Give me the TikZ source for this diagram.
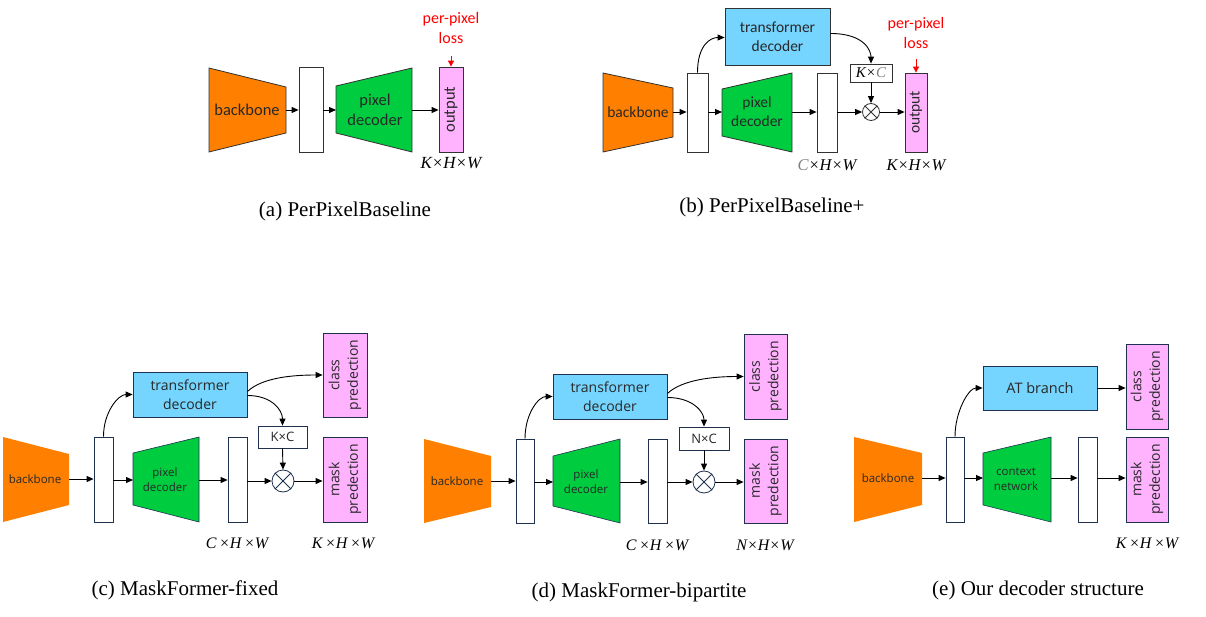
\documentclass[tikz,border=0pt]{standalone}
\usepackage{fontspec}
\setmainfont{Liberation Serif}
\newfontfamily\calfont{Carlito}
\newfontfamily\osfont{Open Sans}
\usetikzlibrary{arrows.meta,calc}
\definecolor{bborange}{RGB}{255,128,0}
\definecolor{pdgreen}{RGB}{0,204,64}
\definecolor{tdblue}{RGB}{117,213,255}
\definecolor{outpink}{RGB}{255,179,255}
\definecolor{navy}{RGB}{31,48,80}
\definecolor{edgeA}{RGB}{50,50,50}
\definecolor{txtgray}{RGB}{40,40,40}
\begin{document}
\begin{tikzpicture}[x=1pt,y=-1pt,
  arr/.style={-{Triangle[length=7pt,width=6pt]}, line width=0.9pt},
  redarr/.style={-{Triangle[length=6pt,width=6pt]}, line width=0.9pt, red},
  trapA/.style={draw=edgeA, line width=0.8pt},
  trapC/.style={draw=navy, line width=0.6pt},
  lblA/.style={font=\calfont\fontsize{16.5}{20}\selectfont, inner sep=0pt, text=txtgray},
  lblB/.style={font=\calfont\fontsize{15.5}{19}\selectfont, inner sep=0pt, text=txtgray},
  lblC/.style={font=\osfont\fontsize{11.5}{15}\selectfont, inner sep=0pt, text=txtgray, align=center},
  lblD/.style={font=\osfont\fontsize{14}{18.5}\selectfont, inner sep=0pt, text=txtgray, align=center},
  featA/.style={draw=edgeA, line width=0.8pt, fill=white, inner sep=0pt},
  featC/.style={draw=navy, line width=0.8pt, fill=white, inner sep=0pt},
  pinkA/.style={draw=edgeA, line width=0.8pt, fill=outpink, inner sep=0pt},
  pinkC/.style={draw=navy, line width=0.8pt, fill=outpink, inner sep=0pt},
  blueA/.style={draw=edgeA, line width=0.8pt, fill=tdblue, inner sep=0pt},
  blueC/.style={draw=navy, line width=0.8pt, fill=tdblue, inner sep=0pt},
  otimes/.style={circle, draw=navy, line width=0.8pt, fill=white, inner sep=0pt},
  dimA/.style={font=\rmfamily\fontsize{17}{20}\selectfont\itshape, inner sep=0pt},
  dimC/.style={font=\rmfamily\fontsize{16}{20}\selectfont\itshape, inner sep=0pt},
  captxt/.style={font=\rmfamily\fontsize{21}{24}\selectfont, inner sep=0pt},
  loss/.style={font=\calfont\fontsize{16}{20}\selectfont, text=red, align=center, inner sep=0pt}
]
\useasboundingbox (0,0) rectangle (1206,617);

% ================= (a) =================
\draw[trapA, fill=bborange] (209,68) -- (286,87) -- (286,133) -- (209,152) -- cycle;
\node[lblA] (a-bb) at (247,110) {backbone};
\coordinate (a-bbR) at (286,110);
\node[featA, minimum width=24, minimum height=85] (a-f1) at (311,109.5) {};
\draw[trapA, fill=pdgreen] (336,86) -- (412,68) -- (412,152) -- (336,133) -- cycle;
\node[lblA, align=center] (a-pd) at (375,110) {pixel\\decoder};
\coordinate (a-pdL) at (336,110);
\coordinate (a-pdR) at (412,110);
\node[pinkA, minimum width=24, minimum height=85] (a-out) at (451,109.5) {};
\node[lblA, rotate=90] (a-outt) at (a-out) {output};
\node[loss] (a-loss) at (451,28) {per-pixel\\loss};
\coordinate (a-lossT) at (451,56);
\node[dimA] (a-dim) at (451,163) {K×H×W};
\draw[arr] (a-bbR) -- (a-f1.west |- a-bbR);
\draw[arr] (a-f1.east |- a-pdL) -- (a-pdL);
\draw[arr] (a-pdR) -- (a-out.west |- a-pdR);
\draw[redarr] (a-lossT) -- (a-out.north);
\node[captxt] (a-cap) at (345,211) {(a) PerPixelBaseline};

% ================= (b) =================
\draw[trapA, fill=bborange] (603,73) -- (673,88) -- (673,137) -- (603,152) -- cycle;
\node[lblB] (b-bb) at (638,112) {backbone};
\coordinate (b-bbR) at (673,112);
\node[featA, minimum width=21, minimum height=79] (b-f1) at (697.5,112.5) {};
\draw[trapA, fill=pdgreen] (722,89) -- (792,73) -- (792,152) -- (722,136) -- cycle;
\node[lblB, align=center] (b-pd) at (757,112) {pixel\\decoder};
\coordinate (b-pdL) at (722,112);
\coordinate (b-pdR) at (792,112);
\node[featA, minimum width=20, minimum height=79] (b-f2) at (827,112.5) {};
\node[otimes, draw=edgeA, minimum size=17] (b-mul) at (871,112) {};
\draw[edgeA, line width=0.8pt] (b-mul.45) -- (b-mul.225) (b-mul.135) -- (b-mul.315);
\node[pinkA, minimum width=22, minimum height=79] (b-out) at (916,112.5) {};
\node[lblB, rotate=90] (b-outt) at (b-out) {output};
\node[blueA, minimum width=105, minimum height=57] (b-td) at (777.5,36.5) {};
\node[lblB, align=center] (b-tdt) at (b-td) {transformer\\decoder};
\node[featA, minimum width=42, minimum height=18] (b-kc) at (871,73) {};
\node[font=\rmfamily\fontsize{15}{18}\selectfont\itshape, inner sep=0pt] (b-kct) at (b-kc) {K×\textcolor{gray}{C}};
\node[loss] (b-loss) at (916,33) {per-pixel\\loss};
\coordinate (b-lossT) at (916,59);
\node[dimA, font=\rmfamily\fontsize{16.5}{20}\selectfont\itshape] (b-dim1) at (827,165) {\textcolor{gray}{C}×H×W};
\node[dimA, font=\rmfamily\fontsize{16.5}{20}\selectfont\itshape] (b-dim2) at (916,165) {K×H×W};
\draw[arr] (b-bbR) -- (b-f1.west |- b-bbR);
\draw[arr] (b-f1.east |- b-pdL) -- (b-pdL);
\draw[arr] (b-pdR) -- (b-f2.west |- b-pdR);
\draw[arr] (b-f2.east |- b-mul) -- (b-mul.west);
\draw[arr] (b-mul.east) -- (b-out.west |- b-mul);
\draw[arr] (b-kc.south) -- (b-mul.north);
\draw[arr] (b-f1.north) .. controls +(0,-28) and +(-14,0) .. ([yshift=-1pt]b-td.west);
\draw[arr] ([yshift=3pt]b-td.east) .. controls +(35,0) and +(0,-12) .. (b-kc.north);
\draw[redarr] (b-lossT) -- (b-out.north);
\node[captxt] (b-cap) at (772,207) {(b) PerPixelBaseline+};

% ================= (c) =================
\draw[trapC, draw=none, fill=bborange] (3,437) -- (69,454) -- (69,505) -- (3,522) -- cycle;
\node[lblC] (c-bb) at (35,479) {backbone};
\coordinate (c-bbR) at (69,479);
\node[featC, minimum width=19, minimum height=85] (c-f1) at (103.5,479.5) {};
\draw[trapC, fill=pdgreen] (133,453) -- (199,437) -- (199,522) -- (133,505) -- cycle;
\node[lblC] (c-pd) at (165,480) {pixel\\decoder};
\coordinate (c-pdL) at (133,480);
\coordinate (c-pdR) at (199,480);
\node[featC, minimum width=19, minimum height=85] (c-f2) at (237.5,479.5) {};
\node[otimes, minimum size=22] (c-mul) at (283,481) {};
\draw[navy, line width=0.8pt] (c-mul.45) -- (c-mul.225) (c-mul.135) -- (c-mul.315);
\node[featC, minimum width=49, minimum height=22] (c-kc) at (282.5,437) {};
\node[lblD, font=\osfont\fontsize{13}{16}\selectfont] (c-kct) at (c-kc) {K×C};
\node[blueC, minimum width=114, minimum height=45] (c-td) at (190,394.5) {};
\node[lblD] (c-tdt) at (c-td) {transformer\\decoder};
\node[pinkC, minimum width=44, minimum height=84] (c-cls) at (345,375) {};
\node[lblD, rotate=90] (c-clst) at (c-cls) {class\\predection};
\node[pinkC, minimum width=44, minimum height=85] (c-msk) at (345,479.5) {};
\node[lblD, rotate=90] (c-mskt) at (c-msk) {mask\\predection};
\node[dimC] (c-dim1) at (237,543) {C\,×H\,×W};
\node[dimC] (c-dim2) at (343,543) {K\,×H\,×W};
\draw[arr] (c-bbR) -- (c-f1.west |- c-bbR);
\draw[arr] (c-f1.east |- c-pdL) -- (c-pdL);
\draw[arr] (c-pdR) -- (c-f2.west |- c-pdR);
\draw[arr] (c-f2.east |- c-mul) -- (c-mul.west);
\draw[arr] (c-mul.east) -- (c-msk.west |- c-mul);
\draw[arr] (c-kc.south) -- (c-mul.north);
\draw[arr] (c-f1.north) .. controls +(0,-25) and +(-14,0) .. (c-td.west);
\draw[arr] ([yshift=3pt]c-td.east) .. controls +(15,-14) and +(-30,0) .. (c-cls.west);
\draw[arr] ([yshift=-1pt]c-td.east) .. controls +(25,0) and +(0,-15) .. (c-kc.north);
\node[captxt] (c-cap) at (185,590) {(c) MaskFormer-fixed};

% ================= (d) =================
\draw[trapC, draw=none, fill=bborange] (424,439) -- (491,456) -- (491,507) -- (424,523) -- cycle;
\node[lblC] (d-bb) at (457,481) {backbone};
\coordinate (d-bbR) at (491,481);
\node[featC, minimum width=18, minimum height=84] (d-f1) at (525,481) {};
\draw[trapC, fill=pdgreen] (553,456) -- (620,439) -- (620,523) -- (553,506) -- cycle;
\node[lblC] (d-pd) at (586,482) {pixel\\decoder};
\coordinate (d-pdL) at (553,482);
\coordinate (d-pdR) at (620,482);
\node[featC, minimum width=19, minimum height=84] (d-f2) at (657.5,481) {};
\node[otimes, minimum size=22] (d-mul) at (704,482) {};
\draw[navy, line width=0.8pt] (d-mul.45) -- (d-mul.225) (d-mul.135) -- (d-mul.315);
\node[featC, minimum width=50, minimum height=23] (d-kc) at (704,438.5) {};
\node[lblD, font=\osfont\fontsize{13}{16}\selectfont] (d-kct) at (d-kc) {N×C};
\node[blueC, minimum width=114, minimum height=45] (d-td) at (610,396.5) {};
\node[lblD] (d-tdt) at (d-td) {transformer\\decoder};
\node[pinkC, minimum width=43, minimum height=85] (d-cls) at (765.5,376.5) {};
\node[lblD, rotate=90] (d-clst) at (d-cls) {class\\predection};
\node[pinkC, minimum width=43, minimum height=84] (d-msk) at (765.5,481) {};
\node[lblD, rotate=90] (d-mskt) at (d-msk) {mask\\predection};
\node[dimC] (d-dim1) at (657,545) {C\,×H\,×W};
\node[dimC] (d-dim2) at (765,545) {N×H×W};
\draw[arr] (d-bbR) -- (d-f1.west |- d-bbR);
\draw[arr] (d-f1.east |- d-pdL) -- (d-pdL);
\draw[arr] (d-pdR) -- (d-f2.west |- d-pdR);
\draw[arr] (d-f2.east |- d-mul) -- (d-mul.west);
\draw[arr] (d-mul.east) -- (d-msk.west |- d-mul);
\draw[arr] (d-kc.south) -- (d-mul.north);
\draw[arr] (d-f1.north) .. controls +(0,-25) and +(-14,0) .. (d-td.west);
\draw[arr] ([yshift=3pt]d-td.east) .. controls +(15,-14) and +(-30,0) .. (d-cls.west);
\draw[arr] ([yshift=-1pt]d-td.east) .. controls +(25,0) and +(0,-15) .. (d-kc.north);
\node[captxt] (d-cap) at (639,592) {(d) MaskFormer-bipartite};

% ================= (e) =================
\draw[trapC, draw=none, fill=bborange] (854,437) -- (922,453) -- (922,505) -- (854,522) -- cycle;
\node[lblC] (e-bb) at (888,478) {backbone};
\coordinate (e-bbR) at (922,478);
\node[featC, minimum width=18, minimum height=85] (e-f1) at (955,479.5) {};
\draw[trapC, fill=pdgreen] (983,453) -- (1051,437) -- (1051,522) -- (983,505) -- cycle;
\node[lblC] (e-cn) at (1016,479) {context\\network};
\coordinate (e-cnL) at (983,478);
\coordinate (e-cnR) at (1051,478);
\node[featC, minimum width=19, minimum height=85] (e-f2) at (1087.5,479.5) {};
\node[pinkC, minimum width=42, minimum height=85] (e-msk) at (1147,479.5) {};
\node[lblD, rotate=90] (e-mskt) at (e-msk) {mask\\predection};
\node[pinkC, minimum width=42, minimum height=85] (e-cls) at (1147,386.5) {};
\node[lblD, rotate=90] (e-clst) at (e-cls) {class\\predection};
\node[blueC, minimum width=114, minimum height=44] (e-at) at (1040,388) {};
\node[lblD, font=\osfont\fontsize{14.5}{18}\selectfont] (e-att) at (e-at) {AT branch};
\node[dimC] (e-dim) at (1147,543) {K\,×H\,×W};
\draw[arr] (e-bbR) -- (e-f1.west |- e-bbR);
\draw[arr] (e-f1.east |- e-cnL) -- (e-cnL);
\draw[arr] (e-cnR) -- (e-f2.west |- e-cnR);
\draw[arr] (e-f2.east |- e-cnR) -- (e-msk.west |- e-cnR);
\draw[arr] (e-f1.north) .. controls +(0,-25) and +(-14,0) .. (e-at.west);
\draw[arr] (e-at.east) -- (e-cls.west |- e-at.east);
\node[captxt] (e-cap) at (1038,590) {(e) Our decoder structure};
\end{tikzpicture}
\end{document}
